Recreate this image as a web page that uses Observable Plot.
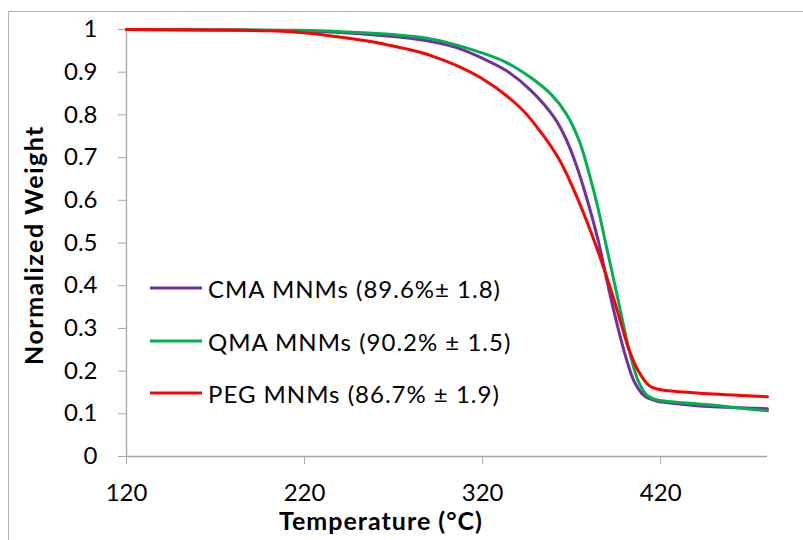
<!DOCTYPE html>
<html>
<head>
<meta charset="utf-8">
<script src="https://cdn.jsdelivr.net/npm/d3@7"></script>
<script src="https://cdn.jsdelivr.net/npm/@observablehq/plot@0.6"></script>
<style>
  html, body { margin: 0; padding: 0; background: #fff; overflow: hidden; }
  #wrap { position: relative; width: 803px; height: 540px; font-family: Lato, "Open Sans", sans-serif; }
  #frame { position: absolute; left: 8px; top: 11px; width: 900px; height: 700px; border-left: 1px solid #b4b4b4; border-top: 1px solid #b4b4b4; }
  #chart { position: absolute; left: 0; top: 0; }
  .title { position: absolute; font-weight: bold; font-size: 25px; color: #000; white-space: nowrap; }
  #ytitle { left: 33px; top: 245px; letter-spacing: 1.5px; transform: translate(-50%, -50%) rotate(-90deg); }
  #xtitle { left: 381px; top: 520px; letter-spacing: 1px; transform: translate(-50%, -50%); }
  #legend { position: absolute; left: 150px; top: 0; }
  .lg { position: absolute; left: 0; white-space: nowrap; font-size: 24px; letter-spacing: 1px; color: #000; display: flex; align-items: center; transform: translateY(-50%); }
  .lg .sw { width: 52px; height: 3px; margin-right: 6px; }
</style>
</head>
<body>
<div id="wrap">
  <div id="frame"></div>
  <div id="chart"></div>
  <div id="ytitle" class="title">Normalized Weight</div>
  <div id="xtitle" class="title">Temperature (°C)</div>
  <div id="legend"></div>
</div>
<script>
// Series names and colors
const seriesNames = ["CMA MNMs (89.6%± 1.8)", "QMA MNMs (90.2% ± 1.5)", "PEG MNMs (86.7% ± 1.9)"];
const seriesColors = ["#7030A0", "#00B050", "#FF0000"];

// CMA MNMs
const cmaT = [120, 170, 218, 240, 263, 280, 291, 305, 319.1, 333.2, 347.2, 360.2, 366.9, 372.5, 378.2, 384.9, 391.1, 396.7, 400.7, 405.2, 410.8, 417.5, 424.3, 446.8, 465, 480];
const cmaW = [1.0, 0.999, 0.997, 0.993, 0.986, 0.979, 0.972, 0.958, 0.934, 0.904, 0.857, 0.794, 0.743, 0.684, 0.609, 0.506, 0.388, 0.290, 0.229, 0.175, 0.142, 0.130, 0.126, 0.117, 0.114, 0.112];

// QMA MNMs
const qmaT = [120, 170, 218, 240, 263, 280, 291, 305, 319.1, 333.2, 347.2, 358.5, 366.9, 374.2, 380.9, 384.9, 388.3, 395, 399.5, 403.5, 407.4, 411.9, 417.5, 424.3, 446.8, 465, 480];
const qmaW = [1.0, 0.999, 0.998, 0.995, 0.990, 0.984, 0.978, 0.964, 0.946, 0.923, 0.887, 0.848, 0.803, 0.740, 0.646, 0.580, 0.515, 0.388, 0.300, 0.229, 0.177, 0.145, 0.133, 0.129, 0.121, 0.113, 0.107];

// PEG MNMs
const pegT = [120, 170, 200, 218, 240.4, 263, 291, 319, 341.6, 352.8, 362.4, 369.7, 382.6, 392.2, 398.9, 401.8, 407.4, 413.6, 418, 424.3, 446.8, 465, 480];
const pegW = [1.0, 0.999, 0.997, 0.993, 0.982, 0.967, 0.939, 0.887, 0.815, 0.759, 0.700, 0.639, 0.506, 0.388, 0.295, 0.255, 0.201, 0.166, 0.158, 0.154, 0.147, 0.143, 0.140];

// Ticks
const xTicks = [120, 220, 320, 420];
const yTicks = [0, 0.1, 0.2, 0.3, 0.4, 0.5, 0.6, 0.7, 0.8, 0.9, 1];
const yTickLabels = ["0", "0.1", "0.2", "0.3", "0.4", "0.5", "0.6", "0.7", "0.8", "0.9", "1"];

const seriesT = [cmaT, qmaT, pegT];
const seriesW = [cmaW, qmaW, pegW];
const rows = [];
seriesNames.forEach((name, i) => {
  seriesT[i].forEach((t, j) => rows.push({series: name, T: t, W: seriesW[i][j]}));
});

const axisGray = "#a6a6a6";
const chart = Plot.plot({
  width: 803,
  height: 540,
  marginLeft: 126,
  marginRight: 36,
  marginTop: 29,
  marginBottom: 84,
  x: {domain: [120, 480]},
  y: {domain: [0, 1]},
  color: {domain: seriesNames, range: seriesColors},
  style: {fontFamily: "Lato, 'Open Sans', sans-serif", fontSize: "24px", color: "#000", background: "transparent"},
  marks: [
    Plot.axisY(yTicks, {tickSize: 8, tickPadding: 21, stroke: axisGray, tickFormat: d => yTickLabels[yTicks.indexOf(d)], label: null}),
    Plot.axisX(xTicks, {tickSize: 8, tickPadding: 19, stroke: axisGray, tickFormat: d => String(d), label: null}),
    Plot.ruleX([120], {stroke: axisGray, strokeWidth: 1.3}),
    Plot.ruleY([0], {stroke: axisGray, strokeWidth: 1.3}),
    Plot.line(rows, {x: "T", y: "W", z: "series", stroke: "series", strokeWidth: 3, curve: "catmull-rom"})
  ]
});
document.getElementById("chart").appendChild(chart);

// Legend
const legendY = [288, 341, 393];
const legend = document.getElementById("legend");
seriesNames.forEach((name, i) => {
  const row = document.createElement("div");
  row.className = "lg";
  row.style.top = legendY[i] + "px";
  const sw = document.createElement("span");
  sw.className = "sw";
  sw.style.background = seriesColors[i];
  const tx = document.createElement("span");
  tx.textContent = name;
  row.appendChild(sw);
  row.appendChild(tx);
  legend.appendChild(row);
});
</script>
</body>
</html>
